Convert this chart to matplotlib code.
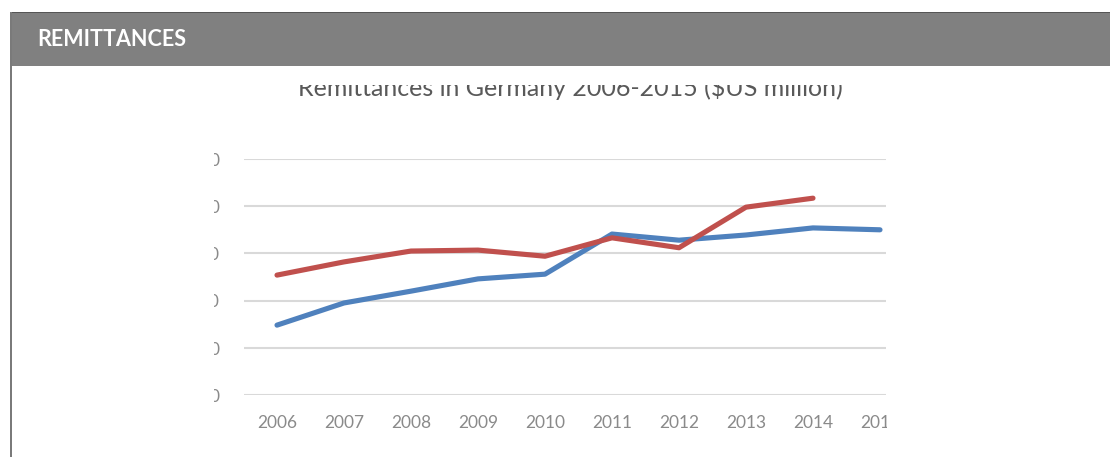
import matplotlib
matplotlib.use("Agg")
import matplotlib.pyplot as plt
from matplotlib.patches import Rectangle

# data (US$ million)
years = [2006, 2007, 2008, 2009, 2010, 2011, 2012, 2013, 2014, 2015]
inflows = [7400, 9750, 11000, 12300, 12800, 17050, 16400, 16950, 17700, 17500]
out_years = [2006, 2007, 2008, 2009, 2010, 2011, 2012, 2013, 2014]
outflows = [12700, 14100, 15250, 15350, 14700, 16650, 15600, 19900, 20850]
y_ticks = [0, 5000, 10000, 15000, 20000, 25000]
y_labels = ["0", "5,000", "10,000", "15,000", "20,000", "25,000"]

W, H = 1110, 457


def fx(x):
    return x / W


def fy(y):
    return 1 - y / H


fig = plt.figure(figsize=(W / 100, H / 100), dpi=100)

# plot area in pixels of the page
left, right, top, bottom = 243.5, 886, 159, 395
ax = fig.add_axes([fx(left), fy(bottom), fx(right) - fx(left), fy(top) - fy(bottom)])
ax.plot(years, inflows, color="#4F81BD", lw=3.7, solid_capstyle="round", solid_joinstyle="round")
ax.plot(out_years, outflows, color="#C0504D", lw=3.7, solid_capstyle="round", solid_joinstyle="round")

ax.set_xlim(2005.5, 2006 + (right - 277) / 67)
ax.set_ylim(0, 25000)
ax.set_xticks(years)
ax.set_xticklabels([str(y) for y in years], fontsize=12.5, color="#8a8a8a", family="Lato")
ax.set_yticks(y_ticks)
ax.set_yticklabels(y_labels, fontsize=12.5, color="#8a8a8a", family="Lato")
ax.tick_params(axis="both", length=0)
ax.tick_params(axis="x", pad=14.5)
ax.tick_params(axis="y", pad=17)
for s in ax.spines.values():
    s.set_visible(False)
ax.grid(axis="y", color="#d9d9d9", lw=1.5)
ax.set_axisbelow(True)

fig.text(fx(570), fy(96.5), "Remittances in Germany 2006-2015 ($US million)", ha="center", va="baseline",
         fontsize=18, color="#595959", family="Lato")

# page elements covering the cropped chart picture
white = dict(facecolor="white", edgecolor="none", transform=fig.transFigure, zorder=10)
fig.add_artist(Rectangle((fx(12), fy(457)), fx(214) - fx(12), fy(66) - fy(457), **white))
fig.add_artist(Rectangle((fx(887), fy(457)), fx(1110) - fx(887), fy(66) - fy(457), **white))
fig.add_artist(Rectangle((fx(12), fy(85)), fx(1110) - fx(12), fy(66) - fy(85), **white))

fig.add_artist(Rectangle((fx(11), fy(66)), fx(1110) - fx(11), fy(12) - fy(66), facecolor="#808080",
                         edgecolor="none", transform=fig.transFigure, zorder=11))
fig.add_artist(Rectangle((fx(11), fy(13)), fx(1110) - fx(11), fy(12) - fy(13), facecolor="#555555",
                         edgecolor="none", transform=fig.transFigure, zorder=12))
fig.add_artist(Rectangle((fx(10), fy(457)), fx(12) - fx(10), fy(12) - fy(457), facecolor="#7a7a7a",
                         edgecolor="none", transform=fig.transFigure, zorder=12))
fig.text(fx(37), fy(40), "REMITTANCES", ha="left", va="center", fontsize=15.5, color="white",
         family="Lato", fontweight="bold", zorder=13)

fig.savefig("out.png", dpi=100)
